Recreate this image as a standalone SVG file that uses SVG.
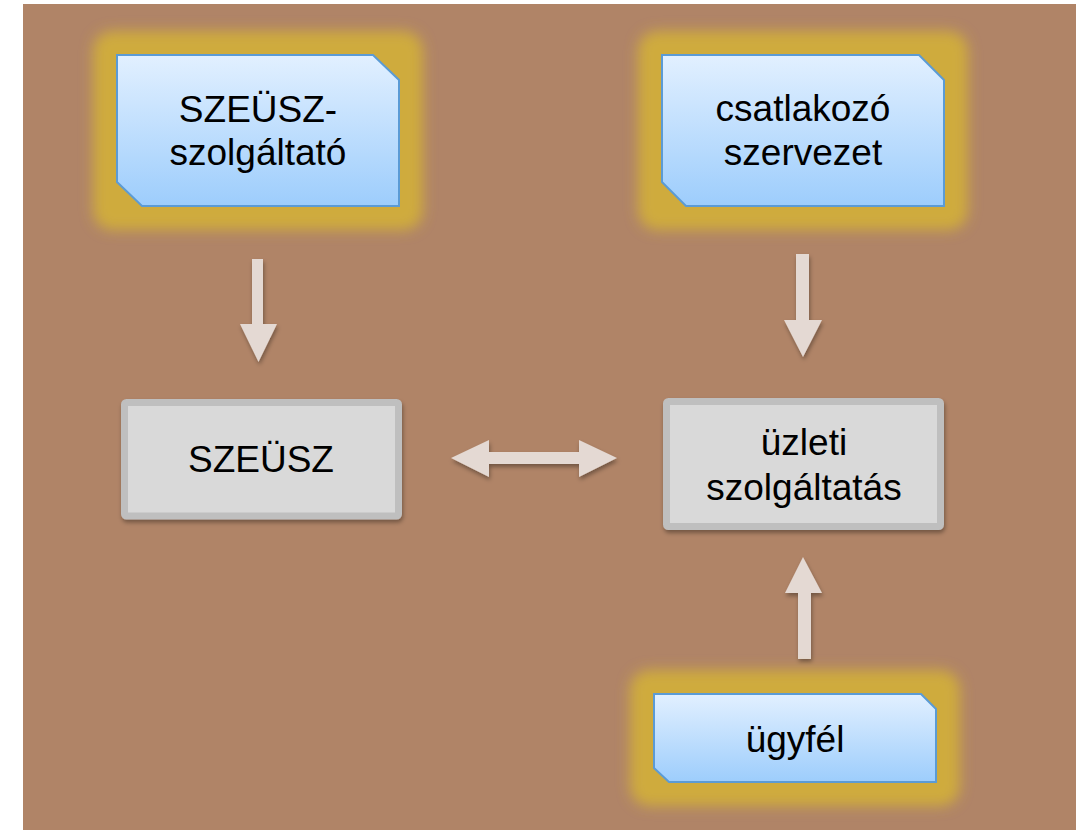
<svg xmlns="http://www.w3.org/2000/svg" width="1076" height="830" viewBox="0 0 1076 830">
  <defs>
    <linearGradient id="blueGrad" x1="0" y1="0" x2="0" y2="1">
      <stop offset="0" stop-color="#E2F0FF"/>
      <stop offset="1" stop-color="#9DCDFC"/>
    </linearGradient>
    <filter id="glowBlur" x="-20%" y="-30%" width="140%" height="160%">
      <feGaussianBlur stdDeviation="6.5"/>
    </filter>
    <filter id="shadow" x="-20%" y="-20%" width="140%" height="150%">
      <feGaussianBlur in="SourceAlpha" stdDeviation="2"/>
      <feOffset dx="1" dy="3" result="ob"/>
      <feFlood flood-color="#000" flood-opacity="0.35"/>
      <feComposite in2="ob" operator="in" result="sh"/>
      <feMerge>
        <feMergeNode in="sh"/>
        <feMergeNode in="SourceGraphic"/>
      </feMerge>
    </filter>
  </defs>
  <style>
    .lbl { font-family: "Liberation Sans", Arial, sans-serif; font-size: 37px; fill: #000; text-anchor: middle; }
    .blue { fill: url(#blueGrad); stroke: #5B9BD5; stroke-width: 2; }
    .glow { fill: #CFAB3C; filter: url(#glowBlur); }
    .gray { fill: #D9D9D9; stroke: #BFBFBF; stroke-width: 7; }
    .arrow { fill: #E4D9D3; }
  </style>
  <rect x="23" y="4" width="1053" height="826" fill="#B08467"/>

  <g id="connectors" filter="url(#shadow)">
    <polygon class="arrow" points="252,259 263,259 263,324 277,324 258.5,362 240,324 252,324"/>
    <polygon class="arrow" points="796,254 809,254 809,320 822,320 803,357 784,320 796,320"/>
    <polygon class="arrow" points="798,659 811,659 811,593 822,593 803,557 785,593 798,593"/>
    <polygon class="arrow" points="451,458 489,440 489,452 579,452 579,440 617,458 579,477 579,464 489,464 489,477"/>
  </g>

  <g id="node-szeusz-szolgaltato">
    <rect class="glow" x="93" y="31" width="330" height="199" rx="20"/>
    <polygon class="blue" points="117,55 373,55 399,80 399,206 142,206 117,182"/>
    <text class="lbl" x="258" y="122">SZEÜSZ-</text>
    <text class="lbl" x="258" y="165">szolgáltató</text>
  </g>

  <g id="node-csatlakozo-szervezet">
    <rect class="glow" x="638" y="31" width="330" height="199" rx="20"/>
    <polygon class="blue" points="662,55 919,55 944,80 944,206 686,206 662,182"/>
    <text class="lbl" x="803" y="121">csatlakozó</text>
    <text class="lbl" x="803" y="165">szervezet</text>
  </g>

  <g id="node-szeusz">
    <rect class="gray" filter="url(#shadow)" x="124.5" y="402.5" width="274" height="113.5" rx="2"/>
    <text class="lbl" x="261" y="472">SZEÜSZ</text>
  </g>

  <g id="node-uzleti-szolgaltatas">
    <rect class="gray" filter="url(#shadow)" x="666.5" y="401.5" width="274" height="125" rx="2"/>
    <text class="lbl" x="804" y="455">üzleti</text>
    <text class="lbl" x="804" y="500">szolgáltatás</text>
  </g>

  <g id="node-ugyfel">
    <rect class="glow" x="630" y="670" width="330" height="136" rx="20"/>
    <polygon class="blue" points="654,694 921,694 936,709 936,782 669,782 654,768"/>
    <text class="lbl" x="795" y="752">ügyfél</text>
  </g>
</svg>
